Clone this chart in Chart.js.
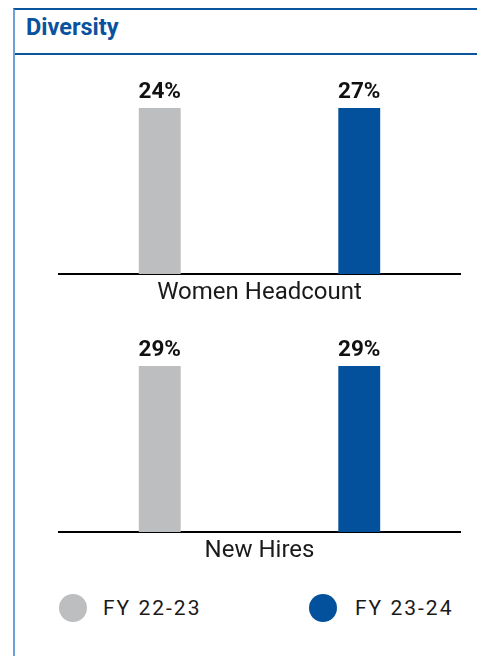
<!DOCTYPE html>
<html><head><meta charset="utf-8">
<script src="https://cdn.jsdelivr.net/npm/chart.js@4"></script>
<style>
html,body{margin:0;padding:0;background:#fff;width:477px;height:656px;overflow:hidden;font-family:Roboto,sans-serif;}
#frame{position:absolute;left:13px;top:8px;width:480px;height:660px;border-left:2px solid #6fa0d8;border-top:2px solid #0b55a0;}
#sep{position:absolute;left:15px;top:53px;width:480px;height:0;border-top:2px solid #0b55a0;}
#title{position:absolute;left:26px;top:15.7px;font:bold 23.5px Roboto;line-height:23.5px;color:#0b529e;white-space:nowrap;}
.cv{position:absolute;left:0;width:477px;height:260px;}
#w1{top:60px;}
#w2{top:318px;}
.lg{position:absolute;font:21px Roboto;line-height:21px;letter-spacing:2px;color:#1a1a1a;white-space:nowrap;}
.dot{position:absolute;width:28px;height:28px;border-radius:50%;}
</style>
</head><body>
<div id="frame"></div>
<div id="sep"></div>
<div id="title">Diversity</div>
<div class="cv" id="w1"><canvas id="c1" width="477" height="260"></canvas></div>
<div class="cv" id="w2"><canvas id="c2" width="477" height="260"></canvas></div>
<div id="legend"></div>
<script>
const categories = ['Women Headcount', 'New Hires'];
const seriesLabels = ['FY 22-23', 'FY 23-24'];
const fy2223 = [24, 29];
const fy2324 = [27, 29];
const seriesColors = ['#bdbec0', '#03519c'];

const valueLabels = {
  id: 'valueLabels',
  afterDatasetsDraw(chart) {
    const ctx = chart.ctx;
    ctx.save();
    ctx.font = 'bold 22.5px Roboto';
    ctx.fillStyle = '#111';
    ctx.textAlign = 'center';
    ctx.textBaseline = 'alphabetic';
    chart.data.datasets.forEach((ds, i) => {
      chart.getDatasetMeta(i).data.forEach((el, j) => {
        const y = Math.max(el.y, chart.chartArea.top) - 10;
        ctx.fillText(ds.data[j] + '%', el.x, y);
      });
    });
    ctx.restore();
  }
};

function makeChart(id, idx) {
  const vals = [fy2223[idx], fy2324[idx]];
  return new Chart(document.getElementById(id), {
    type: 'bar',
    data: {
      labels: [categories[idx]],
      datasets: [
        { label: seriesLabels[0], data: [fy2223[idx]], backgroundColor: seriesColors[0], clip: 0 },
        { label: seriesLabels[1], data: [fy2324[idx]], backgroundColor: seriesColors[1], clip: 0 }
      ]
    },
    options: {
      responsive: false,
      animation: false,
      devicePixelRatio: 1,
      categoryPercentage: 0.995,
      barPercentage: 0.21,
      layout: { padding: { left: 59, right: 17, top: 48, bottom: 0 } },
      plugins: { legend: { display: false }, tooltip: { enabled: false } },
      scales: {
        x: {
          grid: { display: false, drawTicks: false },
          border: { display: true, color: '#000', width: 2 },
          ticks: { color: '#1a1a1a', font: { family: 'Roboto', size: 24 }, padding: 5 },
          afterFit(scale) { scale.height = 46; }
        },
        y: {
          display: false,
          min: 0,
          max: Math.min(...vals)
        }
      }
    },
    plugins: [valueLabels]
  });
}
makeChart('c1', 0);
makeChart('c2', 1);

const legendPos = [{ dot: 58.7, text: 103 }, { dot: 309.3, text: 355 }];
const lg = document.getElementById('legend');
seriesLabels.forEach((lab, i) => {
  const d = document.createElement('div');
  d.className = 'dot';
  d.style.left = legendPos[i].dot + 'px';
  d.style.top = '594px';
  d.style.background = seriesColors[i];
  lg.appendChild(d);
  const t = document.createElement('div');
  t.className = 'lg';
  t.style.left = legendPos[i].text + 'px';
  t.style.top = '598px';
  t.textContent = lab;
  lg.appendChild(t);
});
</script>
</body></html>
